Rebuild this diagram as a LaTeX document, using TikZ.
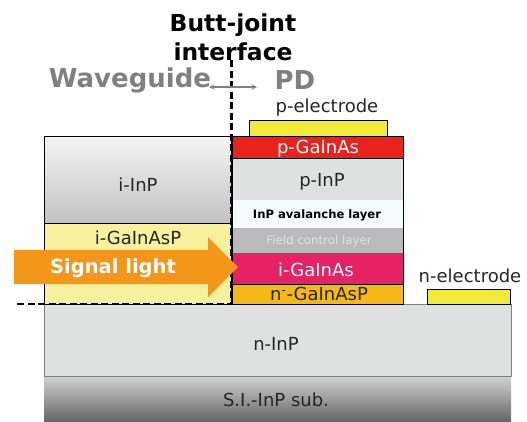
\documentclass[tikz,border=0pt]{standalone}
\usepackage{fontspec}
\usepackage{tikz}
\setmainfont{DejaVu Sans}

\definecolor{lightgray}{HTML}{DFE1E0}
\definecolor{redlayer}{HTML}{E9231B}
\definecolor{pinklayer}{HTML}{E72264}
\definecolor{orangelayer}{HTML}{F6B817}
\definecolor{signalorange}{HTML}{F39619}
\definecolor{electrode}{HTML}{F2EA38}
\definecolor{quaternary}{HTML}{F7F09C}

\tikzset{
    layer/.style={draw=black, line width=1pt},
    sublayer/.style={draw=black!50, line width=1pt},
    label/.style={font=\fontsize{18}{21}\selectfont, text=black!85},
    biglabel/.style={font=\fontsize{26}{30}\selectfont\bfseries, align=center}
}

\begin{document}
\begin{tikzpicture}[x=1pt, y=-1pt]
        \useasboundingbox (0, 0) rectangle (527, 421);

        % substrate
        \draw[sublayer, fill=lightgray] (44, 304) rectangle (511, 376);
        \shade[top color=black!18, bottom color=black!60] (44, 376.5) rectangle (511, 421);
        \draw[sublayer] (44, 376) -- (511, 376);

        % waveguide side
        \draw[layer, top color=black!4, bottom color=black!24] (44.5, 136) rectangle (231, 223);
        \draw[layer, fill=quaternary] (44.5, 223) rectangle (231, 304);

        % pd side
        \fill[lightgray] (232, 158) rectangle (403, 200);
        \fill[cyan!4] (232, 200) rectangle (403, 228);
        \fill[black!27] (232, 228) rectangle (403, 253);
        \fill[pinklayer] (232, 253) rectangle (403, 284);
        \draw[layer, fill=redlayer] (232, 136) rectangle (403, 158);
        \draw[layer, fill=orangelayer] (232, 284) rectangle (403, 304);
        \draw[layer] (232, 158) -- (232, 284);
        \draw[layer] (403, 158) -- (403, 284);

        % electrodes
        \draw[layer, fill=electrode] (249, 120) rectangle (387, 136);
        \draw[layer, fill=electrode] (427, 289) rectangle (510, 304);

        \node[label] (pelectrode) at (327, 108) {p-electrode};
        \node[label, text=white] (pGaInAs) at (318, 149) {p-GaInAs};
        \node[label] (pInP) at (322, 182) {p-InP};
        \node[font=\fontsize{11.6}{14}\selectfont\bfseries] (avalanche) at (317, 215) {InP avalanche layer};
        \node[font=\fontsize{11.8}{14}\selectfont, text=black!12] (fieldcontrol) at (319, 241) {Field control layer};
        \node[label, text=white] (iGaInAs) at (316, 270) {i-GaInAs};
        \node[label] (nGaInAsP) at (319, 294) {n\textsuperscript{-}-GaInAsP};
        \node[label] (nelectrode) at (470, 276) {n-electrode};
        \node[label] (nInP) at (276, 344) {n-InP};
        \node[label] (subInP) at (276, 400) {S.I.-InP sub.};
        \node[label] (iInP) at (138, 185) {i-InP};
        \node[label] (iGaInAsP) at (138, 238) {i-GaInAsP};

        % dashed interface
        \coordinate (jointtop) at (231.5, 60);
        \coordinate (jointcorner) at (231.5, 304);
        \coordinate (jointleft) at (15, 304);
        \draw[line width=2.7pt, dash pattern=on 7pt off 3.5pt] (jointtop) -- (jointcorner) -- (jointleft);

        % signal arrow
        \fill[signalorange] (14, 250) -- (208, 250) -- (208, 237) -- (238, 267) -- (208, 297) -- (208, 284) -- (14, 284) -- cycle;
        \node[font=\fontsize{19.5}{22}\selectfont\bfseries, text=white] (signal) at (113, 268) {Signal light};

        % titles
        \node[font=\fontsize{23.4}{29}\selectfont\bfseries, align=center] (butt) at (233, 37) {Butt-joint\\interface};
        \node[biglabel, text=black!50] (waveguide) at (130, 80) {Waveguide};
        \node[biglabel, text=black!50] (pd) at (295, 80) {PD};
        \coordinate (splitleft) at (209, 87);
        \coordinate (splitright) at (257, 87);
        \draw[<->, >=stealth, black!50, line width=1.4pt] (splitleft) -- (splitright);
    \end{tikzpicture}
\end{document}
